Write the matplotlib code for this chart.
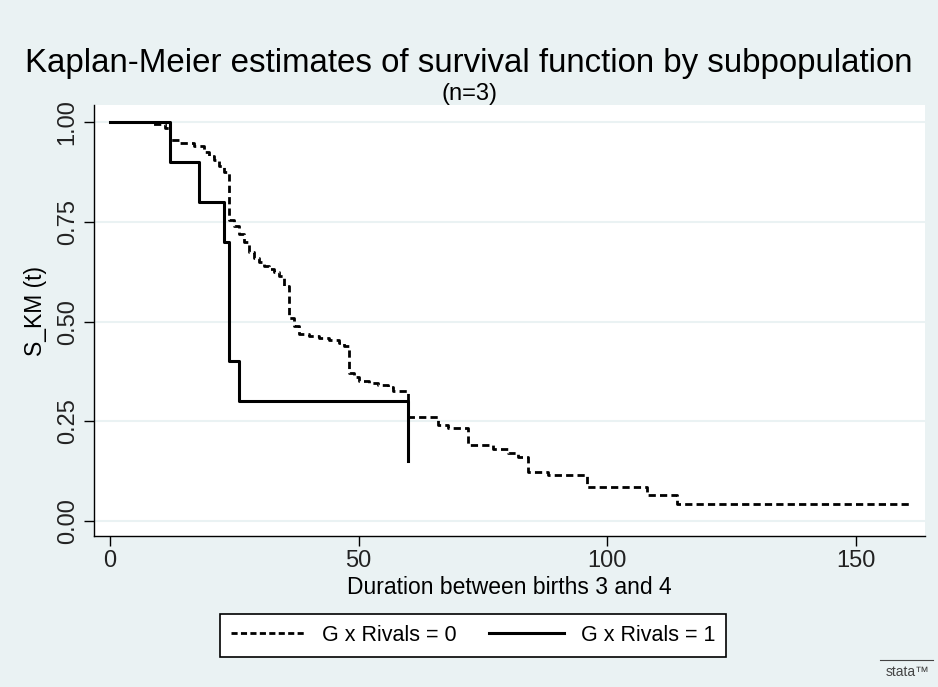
import matplotlib
matplotlib.use("Agg")
import matplotlib.pyplot as plt

# Kaplan-Meier step data
# G x Rivals = 0 (dashed)
t_rivals0 = [0, 8, 11, 12, 14, 17, 19, 20, 21, 22, 23, 24, 25, 26, 27, 28, 29, 30,
             31, 32, 33, 34, 35, 36, 37, 38, 40, 42, 44, 46, 47, 48, 49, 50, 52,
             54, 56, 57, 60, 66, 68, 72, 77, 80, 82, 84, 88, 96, 108, 114, 161]
s_rivals0 = [1.0, 0.995, 0.985, 0.955, 0.948, 0.94, 0.925, 0.915, 0.905, 0.89,
             0.875, 0.755, 0.74, 0.72, 0.70, 0.675, 0.66, 0.65, 0.64, 0.632, 0.625,
             0.615, 0.59, 0.51, 0.49, 0.47, 0.465, 0.46, 0.455, 0.447, 0.44, 0.37,
             0.36, 0.35, 0.345, 0.34, 0.335, 0.325, 0.262, 0.24, 0.234, 0.19, 0.18,
             0.17, 0.16, 0.124, 0.115, 0.086, 0.065, 0.043, 0.043]

# G x Rivals = 1 (solid)
t_rivals1 = [0, 12, 18, 23, 24, 26, 60]
s_rivals1 = [1.0, 0.9, 0.8, 0.7, 0.4, 0.3, 0.15]

x_ticks = [0, 50, 100, 150]
y_ticks = [0.0, 0.25, 0.5, 0.75, 1.0]

bg = "#EAF2F3"
plt.rcParams["font.family"] = ["Liberation Sans", "DejaVu Sans"]

fig = plt.figure(figsize=(9.38, 6.87), dpi=100, facecolor=bg)
ax = fig.add_axes([0.1002, 0.2198, 0.886, 0.627])
ax.set_facecolor("white")

for y in y_ticks:
    ax.axhline(y, color=bg, lw=1.5, zorder=0)

ax.step(t_rivals0, s_rivals0, where="post", color="black", lw=2,
        linestyle=(0, (2.6, 1.5)), label="G x Rivals = 0")
ax.step(t_rivals1, s_rivals1, where="post", color="black", lw=2.2,
        label="G x Rivals = 1")

ax.set_xlim(-3.2, 163.9)
ax.set_ylim(-0.0376, 1.0426)
ax.set_xticks(x_ticks)
ax.set_yticks(y_ticks)
ax.set_yticklabels([f"{v:.2f}" for v in y_ticks], rotation=90, va="center")
ax.tick_params(axis="both", direction="out", length=7, width=1, labelsize=17,
               color="black", labelcolor="#222222")
ax.tick_params(axis="y", pad=4)
ax.tick_params(axis="x", pad=3)
for side in ["top", "right"]:
    ax.spines[side].set_visible(False)
for side in ["left", "bottom"]:
    ax.spines[side].set_linewidth(1)

ax.set_xlabel("Duration between births 3 and 4", fontsize=16.5, labelpad=3)
fig.text(0.038, 0.548, "S_KM (t)", rotation=90, fontsize=16.5, ha="center", va="center")

fig.text(0.5, 0.907, "Kaplan-Meier estimates of survival function by subpopulation",
         ha="center", va="center", fontsize=23.8)
fig.text(0.5, 0.863, "(n=3)", ha="center", va="center", fontsize=17)

leg = fig.legend(loc="center", bbox_to_anchor=(0.504, 0.075), ncol=2, fontsize=15.5,
                 frameon=True, fancybox=False, edgecolor="black", framealpha=1,
                 handlelength=3.5, columnspacing=1.5, handletextpad=0.75,
                 borderpad=0.5)
leg.get_frame().set_linewidth(1.2)
leg.get_lines()[0].set_linestyle((0, (2.2, 1.2)))

# Stata mark, bottom right
fig.text(0.968, 0.012, "stata™", ha="center", va="bottom", fontsize=10,
         color="#444444")
fig.add_artist(plt.Line2D([0.938, 0.995], [0.04, 0.04], color="#444444", lw=0.8))

fig.savefig("out.png", dpi=100, facecolor=bg)
